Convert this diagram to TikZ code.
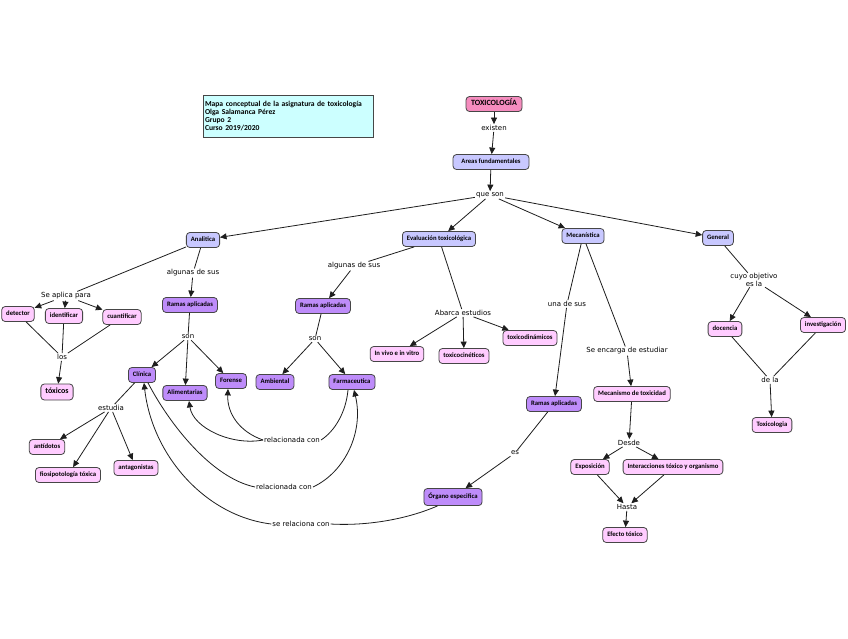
\documentclass[tikz,border=0pt]{standalone}
\usepackage{fontspec}
\usetikzlibrary{arrows.meta}
\newfontfamily\carl{Carlito}
\newfontfamily\dejav{DejaVu Sans}
\newcommand\nodefnt{\carl\bfseries\fontsize{6.7}{7.5}\selectfont}
\newcommand\linkfnt{\dejav\fontsize{7}{8}\selectfont}
\definecolor{lavc}{RGB}{200,200,255}
\definecolor{purc}{RGB}{190,140,250}
\definecolor{pinkc}{RGB}{255,204,255}
\definecolor{toxc}{RGB}{245,140,190}
\definecolor{cyanc}{RGB}{204,255,255}
\definecolor{bordc}{RGB}{70,70,70}
\definecolor{linec}{RGB}{30,30,30}
\tikzset{
  concept/.style={draw=bordc, line width=0.8pt, rounded corners=3.5pt, font=\nodefnt,
    inner xsep=4.5pt, inner ysep=0pt, minimum height=15pt, text height=5pt, text depth=1.5pt},
  lav/.style={concept, fill=lavc},
  pur/.style={concept, fill=purc},
  pnk/.style={concept, fill=pinkc},
  link/.style={font=\linkfnt, inner sep=1pt, align=center},
  arr/.style={-{Triangle[length=6.5pt,width=6pt]}, line width=0.8pt, draw=linec},
  ln/.style={line width=0.8pt, draw=linec}
}
\begin{document}
\begin{tikzpicture}[x=1pt,y=-1pt]
\useasboundingbox[fill=white] (0,0) rectangle (848,638);
% title
\node[draw=bordc, line width=0.8pt, fill=cyanc, minimum width=170pt, minimum height=42pt,
  text width=166pt, align=left, inner sep=2pt, font=\carl\bfseries\fontsize{7.6}{7.8}\selectfont]
  (title) at (288,116) {Mapa conceptual de la asignatura de toxicología\\Olga Salamanca Pérez\\Grupo 2\\Curso 2019/2020};
% concepts
\node[concept, fill=toxc, font=\carl\bfseries\fontsize{8}{8.5}\selectfont, minimum width=56pt] (tox) at (494,104) {TOXICOLOGÍA};
\node[link] (existen) at (494,128) {existen};
\node[lav, minimum width=76pt] (areas) at (491,162) {Areas fundamentales};
\node[link] (queson) at (490,195) {que son};
\node[lav] (ana) at (203,240) {Analitica};
\node[lav] (eva) at (439,239) {Evaluación toxicológica};
\node[lav] (mec) at (583,236) {Mecanística};
\node[lav] (gen) at (718,238) {General};
% analitica branch
\node[link] (seap) at (66,296) {Se aplica para};
\node[pnk] (det) at (18,314) {detector};
\node[pnk] (ide) at (64,316) {identificar};
\node[pnk] (cua) at (122,317) {cuantificar};
\node[link] (los) at (62,357) {los};
\node[pnk, font=\carl\bfseries\fontsize{8}{9}\selectfont, minimum height=16pt] (toxs) at (57,392) {tóxicos};
\node[link] (alg1) at (193,273) {algunas de sus};
\node[pur] (ram1) at (190,305) {Ramas aplicadas};
\node[link] (son1) at (188,337) {son};
\node[pur] (cli) at (142,375) {Clínica};
\node[pur] (ali) at (185,393) {Alimentarias};
\node[pur] (fore) at (231,381) {Forense};
\node[link] (estu) at (111,408) {estudia};
\node[pnk] (anti) at (47,447) {antídotos};
\node[pnk] (fisi) at (68,475) {fiosipotología tóxica};
\node[pnk] (antag) at (136,468) {antagonistas};
% evaluacion branch
\node[link] (alg2) at (354,266) {algunas de sus};
\node[pur] (ram2) at (323,306) {Ramas aplicadas};
\node[link] (son2) at (315,339) {son};
\node[pur] (amb) at (275,382) {Ambiental};
\node[pur] (far) at (352,382) {Farmaceutica};
\node[link] (abar) at (463,313) {Abarca estudios};
\node[pnk] (viv) at (397,354) {In vivo e in vitro};
\node[pnk] (cin) at (464,356) {toxicocinéticos};
\node[pnk] (din) at (530,338) {toxicodinámicos};
% mecanistica branch
\node[link] (una) at (567,304) {una de sus};
\node[link] (enc) at (627,351) {Se encarga de estudiar};
\node[pur] (ram3) at (554,404) {Ramas aplicadas};
\node[pnk] (mecn) at (632,394) {Mecanismo de toxicidad};
\node[link] (desde) at (629,443) {Desde};
\node[pnk] (expo) at (590,467) {Exposición};
\node[pnk] (inter) at (673,467) {Interacciones tóxico y organismo};
\node[link] (hasta) at (627,507) {Hasta};
\node[pnk] (efec) at (625,535) {Efecto tóxico};
\node[link] (es) at (515,453) {es};
\node[pur, minimum height=17pt] (org) at (453,497) {Órgano especifica};
% general branch
\node[link, inner sep=0.5pt, font=\dejav\fontsize{7}{7.5}\selectfont] (cuyo) at (754,280) {cuyo objetivo\\es la};
\node[pnk] (doc) at (725,329) {docencia};
\node[pnk] (inv) at (823,325) {investigación};
\node[link] (dela) at (770,380) {de la};
\node[pnk] (toxg) at (772,425) {Toxicologia};
% relation labels
\node[link] (rel1) at (292,440) {relacionada con};
\node[link] (rel2) at (284,487) {relacionada con};
\node[link] (sel) at (301,524) {se relaciona con};
% connectors
\draw[arr] (tox) -- (existen);
\draw[arr] (existen) -- (areas);
\draw[arr] (areas) -- (queson);
\draw[arr] (queson) -- (ana);
\draw[arr] (queson) -- (eva);
\draw[arr] (queson) -- (mec);
\draw[arr] (queson) -- (gen);
\draw[ln] (ana) -- (seap);
\draw[arr] (seap) -- (det);
\draw[arr] (seap) -- (ide);
\draw[arr] (seap) -- (cua);
\draw[ln] (det) -- (los);
\draw[ln] (ide) -- (los);
\draw[ln] (cua) -- (los);
\draw[arr] (los) -- (toxs);
\draw[ln] (ana) -- (alg1);
\draw[arr] (alg1) -- (ram1);
\draw[ln] (ram1) -- (son1);
\draw[arr] (son1) -- (cli);
\draw[arr] (son1) -- (ali);
\draw[arr] (son1) -- (fore);
\draw[ln] (cli) -- (estu);
\draw[arr] (estu) -- (anti);
\draw[arr] (estu) -- (fisi);
\draw[arr] (estu) -- (antag);
\draw[ln] (eva) -- (alg2);
\draw[arr] (alg2) -- (ram2);
\draw[ln] (ram2) -- (son2);
\draw[arr] (son2) -- (amb);
\draw[arr] (son2) -- (far);
\draw[ln] (eva) -- (abar);
\draw[arr] (abar) -- (viv);
\draw[arr] (abar) -- (cin);
\draw[arr] (abar) -- (din);
\draw[ln] (mec) -- (una);
\draw[arr] (una) -- (ram3);
\draw[ln] (mec) -- (enc);
\draw[arr] (enc) -- (mecn);
\draw[arr] (mecn) -- (desde);
\draw[arr] (desde) -- (expo);
\draw[arr] (desde) -- (inter);
\draw[arr] (expo) -- (hasta);
\draw[arr] (inter) -- (hasta);
\draw[arr] (hasta) -- (efec);
\draw[ln] (ram3) -- (es);
\draw[arr] (es) -- (org);
\draw[ln] (gen) -- (cuyo);
\draw[arr] (cuyo) -- (doc);
\draw[arr] (cuyo) -- (inv);
\draw[ln] (doc) -- (dela);
\draw[ln] (inv) -- (dela);
\draw[arr] (dela) -- (toxg);
% curved relations
\draw[ln] ([xshift=-4pt]far.south) .. controls (346,412) and (335,431) .. (rel1.east);
\draw[arr] (rel1.west) .. controls (232,446) and (193,428) .. ([xshift=4pt]ali.south);
\draw[arr] (rel1.west) .. controls (240,432) and (227,414) .. ([xshift=-3pt]fore.south);
\draw[ln] ([xshift=6pt]cli.south) .. controls (170,425) and (212,478) .. (rel2.west);
\draw[arr] (rel2.east) .. controls (345,472) and (364,432) .. ([xshift=2pt]far.south);
\draw[ln] ([xshift=14pt]org.south west) .. controls (405,520) and (365,526) .. (sel.east);
\draw[arr] (sel.west) .. controls (205,516) and (152,455) .. ([xshift=2pt]cli.south);
\end{tikzpicture}
\end{document}
